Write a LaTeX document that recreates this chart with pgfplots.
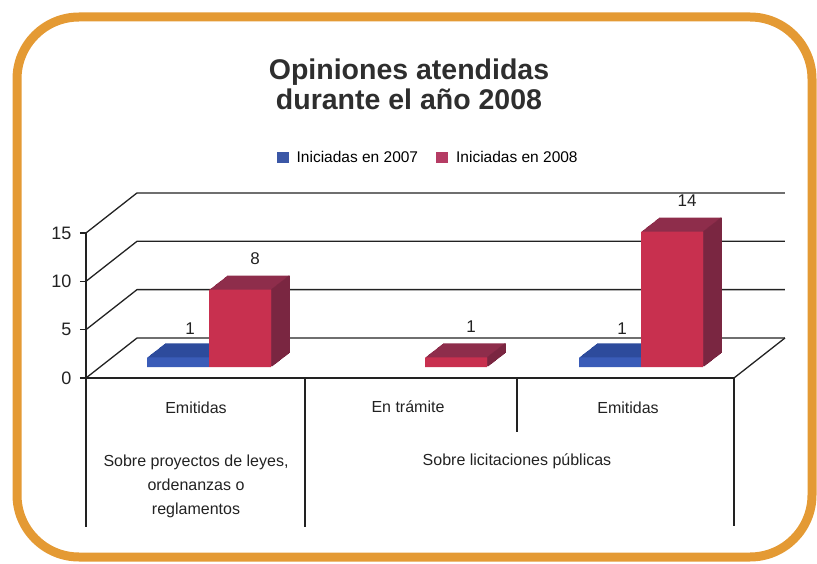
\documentclass[border=0pt]{standalone}
\usepackage{fontspec}
\setmainfont{Liberation Sans}
\usepackage{pgfplots}
\usepackage{pgfplotstable}
\pgfplotsset{compat=1.18}
\definecolor{frameorange}{HTML}{E49A34}
\definecolor{bluefront}{HTML}{3A5CB8}
\definecolor{bluetop}{HTML}{2D4B9C}
\definecolor{blueside}{HTML}{24407F}
\definecolor{redfront}{HTML}{C8304F}
\definecolor{redtop}{HTML}{8E2D4B}
\definecolor{redside}{HTML}{7A2641}
\definecolor{legblue}{HTML}{3B57A6}
\definecolor{legred}{HTML}{B53C64}
\definecolor{titlegray}{HTML}{2E2E2E}
\definecolor{linegray}{HTML}{222222}

\pgfplotstableread{
x v
0 1
2 1
}\blueseries
\pgfplotstableread{
x v
0 8
1 1
2 14
}\redseries

\pgfplotsset{
  sqleg/.style={legend image code/.code={\fill[##1, draw=none] (0pt,-5.5pt) rectangle (12pt,5.5pt); \path[draw=none, fill=none] (0pt,0pt) rectangle (18pt,0.1pt);}},
  bar3d/.style={ybar, bar width=62pt, draw=none, forget plot},
  side3d/.style={ybar, bar width=1.5pt, draw=none, forget plot},
}

\begin{document}
\begin{tikzpicture}[x=1pt,y=1pt]
\path[use as bounding box] (0,0) rectangle (817,563);
\draw[line width=9pt, frameorange, rounded corners=62pt] (17,6) rectangle (812,546);
\node[anchor=base, font=\fontsize{28.5}{30}\selectfont\bfseries, text=titlegray] at (409,483) {Opiniones atendidas};
\node[anchor=base, font=\fontsize{28.5}{30}\selectfont\bfseries, text=titlegray] at (409,453) {durante el año 2008};

\begin{axis}[
  at={(86pt,185pt)}, anchor=south west,
  scale only axis, width=648pt, height=145.05pt,
  xmin=-0.5, xmax=2.5, ymin=0, ymax=15, clip=false,
  axis x line=bottom, axis y line=left,
  axis line style={-, linegray, line width=1.3pt},
  xtick=\empty, ytick={0,5,10,15},
  tick align=outside, major tick length=6pt,
  tick style={linegray, line width=1.2pt},
  yticklabel style={font=\fontsize{18}{20}\selectfont, text=linegray, xshift=-5pt},
  /pgf/number format/assume math mode=true,
  legend style={at={(0.528,1.517)}, anchor=center, draw=none, fill=none,
    font=\fontsize{15.5}{18}\selectfont, legend columns=2,
    /tikz/every even column/.append style={column sep=16pt}},
  legend cell align=left,
]
% back grid lines with 3D corner
\addplot[linegray, line width=1.3pt, forget plot] coordinates {(-0.5,0) (-0.2639,4.1365) (2.736,4.1365)};
\addplot[linegray, line width=1.3pt, forget plot] coordinates {(-0.5,5) (-0.2639,9.1365) (2.736,9.1365)};
\addplot[linegray, line width=1.3pt, forget plot] coordinates {(-0.5,10) (-0.2639,14.1365) (2.736,14.1365)};
\addplot[linegray, line width=1.3pt, forget plot] coordinates {(-0.5,15) (-0.2639,19.1365) (2.736,19.1365)};
\addplot[linegray, line width=1.3pt, forget plot] coordinates {(2.5,0) (2.736,4.1365)};

% blue bars (Iniciadas en 2007)
\pgfplotsinvokeforeach{1,...,18}{
  \addplot[bar3d, bar shift=-31pt, fill=bluetop, xshift={15pt+#1*1pt}, yshift={11pt+#1*0.7778pt}] table[x=x,y=v]{\blueseries};
}
\pgfplotsinvokeforeach{1,...,18}{
  \addplot[side3d, bar shift=0pt, fill=blueside, xshift={15pt+#1*1pt}, yshift={11pt+#1*0.7778pt}] table[x=x,y=v]{\blueseries};
}
\addplot[bar3d, bar shift=-31pt, fill=bluefront, xshift=15pt, yshift=11pt,
  nodes near coords, nodes near coords style={font=\fontsize{17}{20}\selectfont, text=linegray, anchor=center, xshift=-19pt, yshift=29pt}]
  table[x=x,y=v]{\blueseries};

% red bars (Iniciadas en 2008)
\pgfplotsinvokeforeach{1,...,18}{
  \addplot[bar3d, bar shift=31pt, fill=redtop, xshift={15pt+#1*1pt}, yshift={11pt+#1*0.7778pt}] table[x=x,y=v]{\redseries};
}
\pgfplotsinvokeforeach{1,...,18}{
  \addplot[side3d, bar shift=62pt, fill=redside, xshift={15pt+#1*1pt}, yshift={11pt+#1*0.7778pt}] table[x=x,y=v]{\redseries};
}
\addplot[bar3d, bar shift=31pt, fill=redfront, xshift=15pt, yshift=11pt,
  nodes near coords, nodes near coords style={font=\fontsize{17}{20}\selectfont, text=linegray, anchor=center, xshift=46pt, yshift=31pt}]
  table[x=x,y=v]{\redseries};

\addlegendimage{sqleg, fill=legblue}
\addlegendentry{Iniciadas en 2007}
\addlegendimage{sqleg, fill=legred}
\addlegendentry{Iniciadas en 2008}
\end{axis}

% category table below the chart
\draw[linegray, line width=1.3pt] (86,185) -- (86,36);
\draw[linegray, line width=1.3pt] (305,185) -- (305,36);
\draw[linegray, line width=1.3pt] (517,185) -- (517,131);
\draw[linegray, line width=1.3pt] (734,185) -- (734,37);
\node[font=\fontsize{16}{19}\selectfont, text=linegray] at (196,155) {Emitidas};
\node[font=\fontsize{16}{19}\selectfont, text=linegray] at (408,156) {En trámite};
\node[font=\fontsize{16}{19}\selectfont, text=linegray] at (628,155) {Emitidas};
\node[font=\fontsize{16}{24}\selectfont, text=linegray, align=center] at (196,77) {Sobre proyectos de leyes,\\ordenanzas o\\reglamentos};
\node[font=\fontsize{16}{19}\selectfont, text=linegray] at (517,102) {Sobre licitaciones públicas};
\end{tikzpicture}
\end{document}
